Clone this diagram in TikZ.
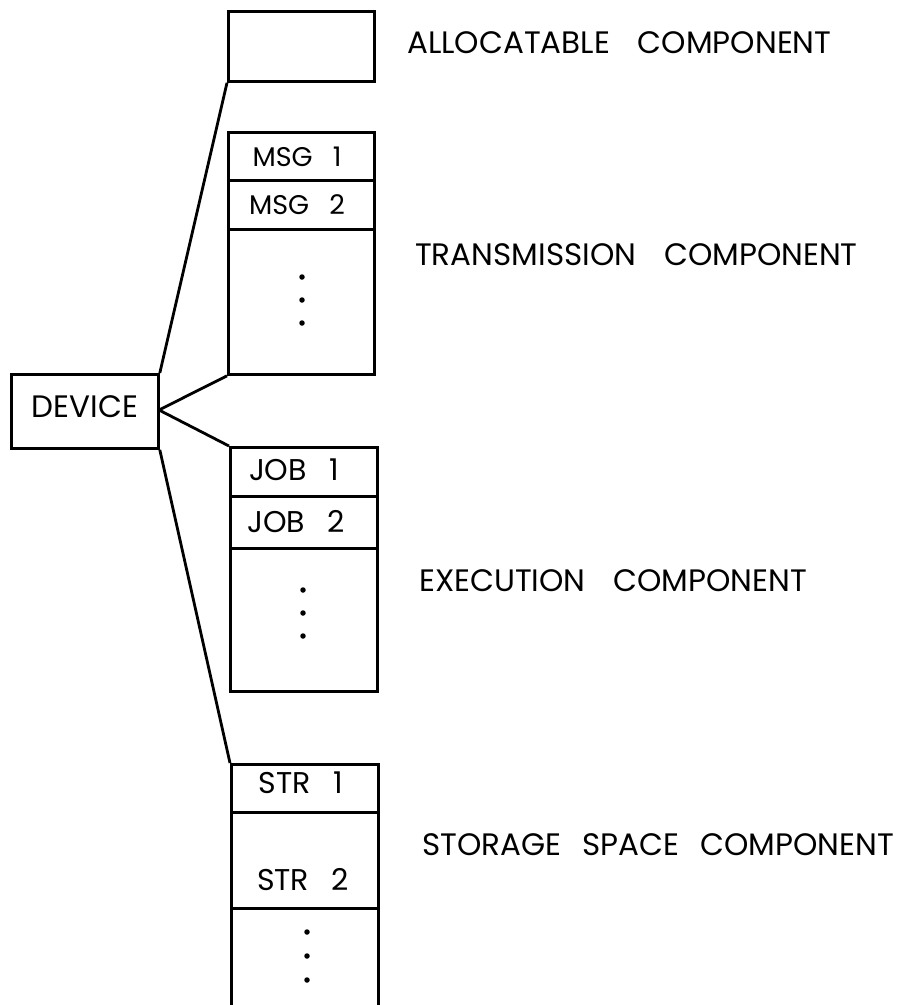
\documentclass[tikz,border=0pt]{standalone}
\usepackage{fontspec}
\setmainfont{Poppins}
\begin{document}
\begin{tikzpicture}[x=1pt,y=-1pt,
  box/.style={draw, line width=2.8pt, rectangle, inner sep=0pt, anchor=north west},
  conn/.style={line width=2.8pt},
  lbl/.style={anchor=base west, inner sep=0pt, font=\fontsize{31}{31}\selectfont},
  cell/.style={font=\fontsize{30}{30}\selectfont, inner sep=0pt, anchor=base},
  dot/.style={circle, fill=black, inner sep=0pt, minimum size=5.5pt}]
\useasboundingbox (0,0) rectangle (902,1005);
\clip (0,0) rectangle (902,1005);
% allocatable
\node[box, minimum width=146pt, minimum height=70pt] (alloc) at (227,10) {};
% transmission
\node[box, minimum width=146pt, minimum height=242pt] (trans) at (227,131) {};
\node[box, minimum width=146pt, minimum height=48pt] (msg1) at (227,131) {};
\node[box, minimum width=146pt, minimum height=49pt] (msg2) at (227,179) {};
\node[cell, font=\fontsize{27}{27}\selectfont] (tmsg1) at (297,166) {MSG\hspace{0.75em}1};
\node[cell, font=\fontsize{27}{27}\selectfont] (tmsg2) at (297,214) {MSG\hspace{0.75em}2};
\node[dot] (td1) at (302,277) {};
\node[dot] (td2) at (302,300) {};
\node[dot] (td3) at (302,323) {};
% device
\node[box, minimum width=147pt, minimum height=74pt] (device) at (10,373) {};
\node[cell, font=\fontsize{31}{31}\selectfont] (tdev) at (85,417) {DEVICE};
% execution
\node[box, minimum width=147pt, minimum height=244pt] (exec) at (229,446) {};
\node[box, minimum width=147pt, minimum height=49pt] (job1) at (229,446) {};
\node[box, minimum width=147pt, minimum height=52pt] (job2) at (229,495) {};
\node[cell] (tjob1) at (294,480) {JOB\hspace{0.75em}1};
\node[cell] (tjob2) at (296,532) {JOB\hspace{0.75em}2};
\node[dot] (ed1) at (303,590) {};
\node[dot] (ed2) at (303,613) {};
\node[dot] (ed3) at (303,636) {};
% storage
\node[box, minimum width=147pt, minimum height=260pt] (stor) at (230,763) {};
\node[box, minimum width=147pt, minimum height=48pt] (str1) at (230,763) {};
\node[box, minimum width=147pt, minimum height=96pt] (str2) at (230,811) {};
\node[cell] (tstr1) at (301,793) {STR\hspace{0.75em}1};
\node[cell] (tstr2) at (303,890) {STR\hspace{0.75em}2};
\node[dot] (sd1) at (307,932) {};
\node[dot] (sd2) at (307,956) {};
\node[dot] (sd3) at (307,980) {};
% connectors
\coordinate (apex) at (159,410);
\draw[conn] (alloc.south west) -- (device.north east);
\draw[conn] (apex) -- (trans.south west);
\draw[conn] (apex) -- (exec.north west);
\draw[conn] (device.south east) -- (stor.north west);
% labels
\node[lbl] (lalloc) at (407,53) {ALLOCATABLE\hspace{0.9em}COMPONENT};
\node[lbl] (ltrans) at (415,265) {TRANSMISSION\hspace{0.9em}COMPONENT};
\node[lbl] (lexec) at (419,591) {EXECUTION\hspace{0.9em}COMPONENT};
\node[lbl] (lstor) at (422,855) {STORAGE\hspace{0.68em}SPACE\hspace{0.68em}COMPONENT};
\end{tikzpicture}
\end{document}
